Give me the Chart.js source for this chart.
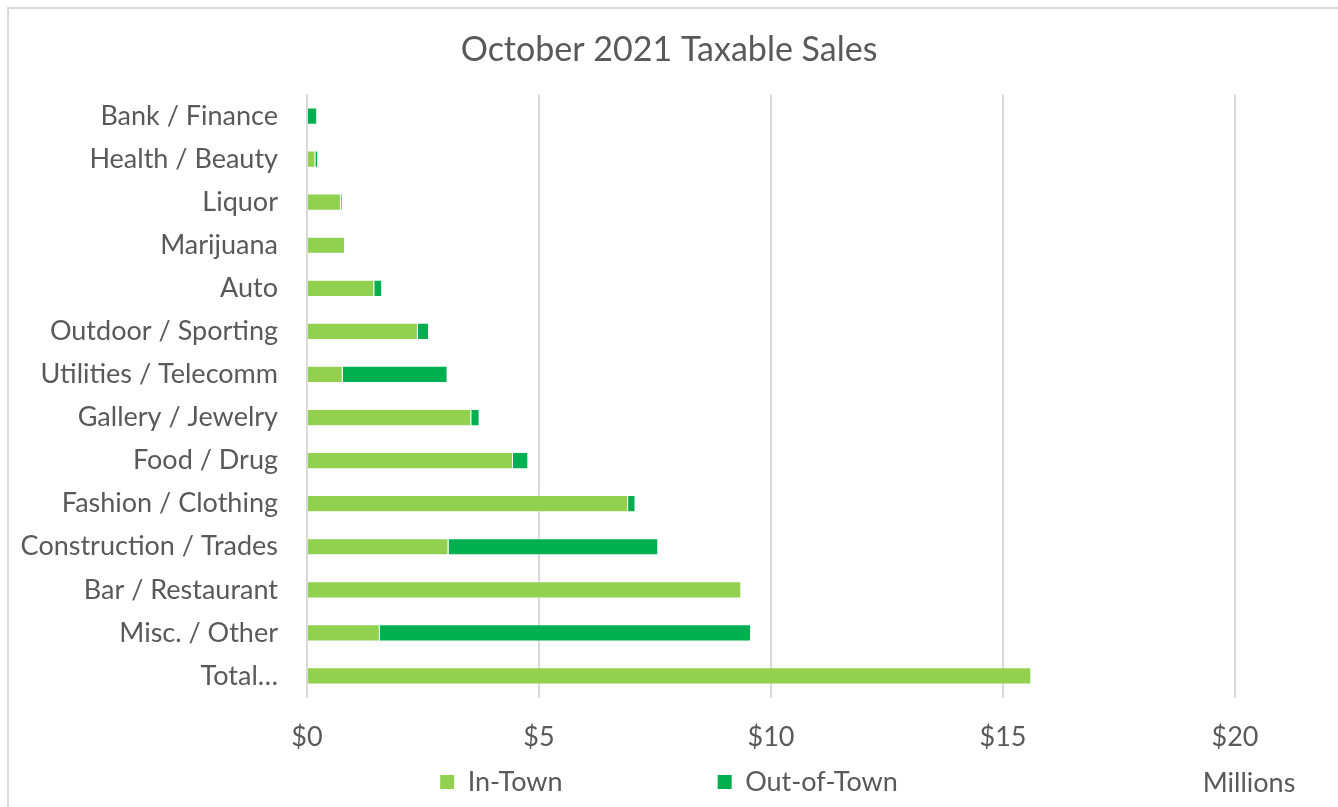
<!DOCTYPE html>
<html>
<head>
<meta charset="utf-8">
<script src="https://cdn.jsdelivr.net/npm/chart.js@4"></script>
<style>
  html, body { margin: 0; padding: 0; background: #ffffff; overflow: hidden; }
  #wrap { position: relative; width: 1338px; height: 807px; }
  #frame { position: absolute; left: 7px; top: 7px; width: 1400px; height: 900px;
           border: 2px solid #d9d9d9; box-sizing: border-box; pointer-events: none; }
  canvas { position: absolute; left: 0; top: 0; }
</style>
</head>
<body>
<div id="wrap">
  <div id="frame"></div>
  <canvas id="c" width="1338" height="807"></canvas>
</div>
<script>
const categories = [
  "Bank / Finance", "Health / Beauty", "Liquor", "Marijuana", "Auto",
  "Outdoor / Sporting", "Utilities / Telecomm", "Gallery / Jewelry",
  "Food / Drug", "Fashion / Clothing", "Construction / Trades",
  "Bar / Restaurant", "Misc. / Other", "Total\u2026"
];
// values in millions of dollars
const inTown    = [0.00, 0.18, 0.73, 0.82, 1.45, 2.39, 0.77, 3.54, 4.44, 6.92, 3.05, 9.36, 1.57, 15.61];
const outOfTown = [0.22, 0.06, 0.03, 0.00, 0.17, 0.24, 2.26, 0.18, 0.33, 0.16, 4.52, 0.00, 8.00, 0.00];
const xTickValues = [0, 5, 10, 15, 20];
const seriesNames = ["In-Town", "Out-of-Town"];
const titleText = "October 2021 Taxable Sales";
const unitsText = "Millions";

const FONT = "Lato";
const TEXT = "#595959";
const GRID = "#d9d9d9";
const LABEL_SIZE = 27;

// pad legend text so the two entries sit far apart like the original
const measureCtx = document.createElement("canvas").getContext("2d");
function padTo(text, px, size) {
  measureCtx.font = size + "px " + FONT;
  let t = text;
  while (measureCtx.measureText(t + " ").width <= px) t += " ";
  return t;
}

const unitsPlugin = {
  id: "unitsLabel",
  afterDraw(chart) {
    const ctx = chart.ctx;
    ctx.save();
    ctx.font = LABEL_SIZE + "px " + FONT;
    ctx.fillStyle = TEXT;
    ctx.textAlign = "center";
    ctx.textBaseline = "middle";
    ctx.fillText(unitsText, 1249, 783);
    ctx.restore();
  }
};

new Chart(document.getElementById("c"), {
  type: "bar",
  data: {
    labels: categories,
    datasets: [
      { label: seriesNames[0], data: inTown, backgroundColor: "#92D050",
        borderColor: "rgba(255,255,255,0.45)", borderWidth: 1,
        barPercentage: 0.4, categoryPercentage: 1.0 },
      { label: seriesNames[1], data: outOfTown, backgroundColor: "#00B050",
        borderColor: "rgba(255,255,255,0.45)", borderWidth: 1,
        barPercentage: 0.4, categoryPercentage: 1.0 }
    ]
  },
  options: {
    indexAxis: "y",
    responsive: false,
    animation: false,
    layout: { padding: { left: 0, right: 0, top: 0, bottom: 1.5 } },
    scales: {
      x: {
        stacked: true,
        min: 0,
        max: 22.22,
        afterBuildTicks(scale) { scale.ticks = xTickValues.map(v => ({ value: v })); },
        ticks: {
          font: { family: FONT, size: LABEL_SIZE },
          color: TEXT,
          padding: 23.3,
          callback: v => "$" + v
        },
        grid: { color: GRID, lineWidth: 2, drawTicks: false },
        border: { display: false },
        afterFit(scale) { scale.height = 61; }
      },
      y: {
        stacked: true,
        ticks: {
          font: { family: FONT, size: LABEL_SIZE },
          color: TEXT,
          padding: 29,
          autoSkip: false
        },
        grid: { display: false, drawTicks: false },
        border: { display: true, color: GRID, width: 2 },
        afterFit(scale) { scale.width = 307; }
      }
    },
    plugins: {
      title: {
        display: true,
        text: titleText,
        color: TEXT,
        font: { family: FONT, size: 34, weight: "normal" },
        padding: { top: 30, bottom: 23.7 }
      },
      legend: {
        position: "bottom",
        labels: {
          font: { family: FONT, size: LABEL_SIZE },
          color: TEXT,
          boxWidth: 14,
          boxHeight: 14,
          padding: 10,
          generateLabels(chart) {
            const items = Chart.defaults.plugins.legend.labels.generateLabels(chart);
            items.forEach((it, i) => {
              it.lineWidth = 0;
              it.strokeStyle = "transparent";
              if (i === 0) it.text = padTo(it.text, 244, LABEL_SIZE);
            });
            return items;
          }
        }
      },
      tooltip: { enabled: false }
    }
  },
  plugins: [unitsPlugin]
});
</script>
</body>
</html>
